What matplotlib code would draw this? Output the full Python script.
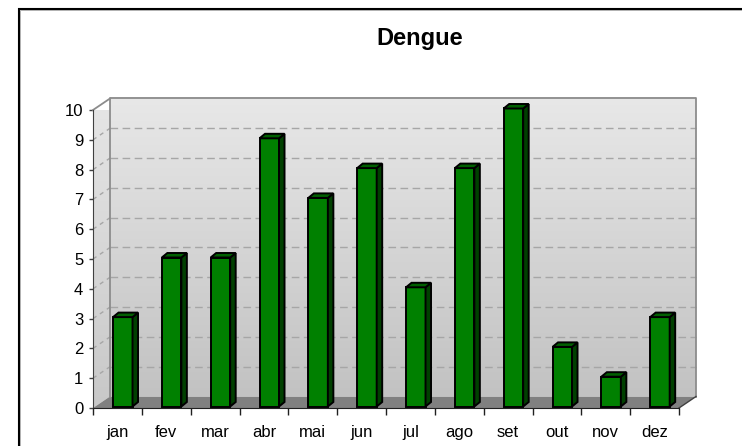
import numpy as np
import matplotlib.pyplot as plt
from matplotlib.patches import Polygon, Rectangle
from matplotlib.colors import LinearSegmentedColormap

plt.rcParams['font.family'] = ['Liberation Sans', 'DejaVu Sans']
plt.rcParams['lines.scale_dashes'] = False

# data
months = ['jan', 'fev', 'mar', 'abr', 'mai', 'jun', 'jul', 'ago', 'set', 'out', 'nov', 'dez']
cases = [3, 5, 5, 9, 7, 8, 4, 8, 10, 2, 1, 3]
yticks = list(range(0, 11))

W, H = 742, 446
fig = plt.figure(figsize=(W / 100, H / 100), dpi=100)

# front plane of the 3d box, in pixels
left, right, bottom, top = 93, 679, 408, 110
ax = fig.add_axes([left / W, 1 - bottom / H, (right - left) / W, (bottom - top) / H])
n = len(months)
ymax = 10
ax.set_xlim(0, n)
ax.set_ylim(0, ymax)

px_x = (right - left) / n       # pixels per category
px_y = (bottom - top) / ymax    # pixels per unit
ddx = 17 / px_x                 # depth of the box
ddy = 11.5 / px_y

# back wall with gradient
wall_cmap = LinearSegmentedColormap.from_list('wall', ['#c2c2c2', '#e8e8e8'])
grad = np.linspace(0, 1, 256).reshape(-1, 1)
ax.imshow(grad, extent=(ddx, n + ddx, ddy, ymax + ddy), origin='lower', aspect='auto',
          cmap=wall_cmap, clip_on=False, zorder=0)

# side wall
side = Polygon([(0, 0), (ddx, ddy), (ddx, ymax + ddy), (0, ymax)], closed=True,
               fc='none', ec='none', transform=ax.transData)
ax.add_patch(side)
im2 = ax.imshow(grad, extent=(0, ddx, 0, ymax + ddy), origin='lower', aspect='auto',
                cmap=LinearSegmentedColormap.from_list('side', ['#c8c8c8', '#e6e6e6']),
                clip_on=True, zorder=0)
im2.set_clip_path(side)

# floor
ax.add_patch(Polygon([(0, 0), (n, 0), (n + ddx, ddy), (ddx, ddy)], closed=True,
                     fc='#808080', ec='none', zorder=1, clip_on=False))

# gridlines on back and side wall
for v in yticks[1:ymax]:
    ax.plot([ddx, n + ddx], [v + ddy, v + ddy], color='#a6a6a6', lw=1,
            dashes=(5.5, 3.2), zorder=1, clip_on=False)
    ax.plot([0, ddx], [v, v + ddy], color='#a6a6a6', lw=1,
            dashes=(3, 3), zorder=1, clip_on=False)

# box edges
edge = '#8c8c8c'
ax.plot([ddx, ddx, n + ddx, n + ddx], [ddy, ymax + ddy, ymax + ddy, ddy],
        color=edge, lw=1.3, zorder=2, clip_on=False)
ax.plot([0, ddx], [ymax, ymax + ddy], color=edge, lw=1.3, zorder=2, clip_on=False)
ax.plot([n, n + ddx], [0, ddy], color='#404040', lw=1, zorder=2, clip_on=False)

# bars
bw = 19.5 / px_x
off = 0.41
y0 = 1.5 / px_y
bdx = 5.5 / px_x
bdy = 4.5 / px_y
for i, v in enumerate(cases):
    x0 = i + off
    ax.add_patch(Rectangle((x0, y0), bw, v, fc='#008000', ec='black', lw=1.4,
                           zorder=3, clip_on=False))
    ax.add_patch(Polygon([(x0 + bw, y0), (x0 + bw + bdx, y0 + bdy),
                          (x0 + bw + bdx, y0 + v + bdy), (x0 + bw, y0 + v)],
                         closed=True, fc='#004000', ec='black', lw=1.4, zorder=3, clip_on=False))
    ax.add_patch(Polygon([(x0, y0 + v), (x0 + bw, y0 + v),
                          (x0 + bw + bdx, y0 + v + bdy), (x0 + bdx, y0 + v + bdy)],
                         closed=True, fc='#006000', ec='black', lw=1.4, zorder=3, clip_on=False))

# axes
for s in ['top', 'right']:
    ax.spines[s].set_visible(False)
ax.spines['left'].set_color('#404040')
ax.spines['bottom'].set_color('#202020')
ax.spines['left'].set_zorder(4)
ax.spines['bottom'].set_zorder(4)

ax.set_yticks(yticks)
ax.set_yticklabels([str(t) for t in yticks], fontsize=12)
ax.tick_params(axis='y', length=3, width=1, color='#404040', pad=4)

ax.set_xticks(range(n + 1))
ax.set_xticklabels([])
ax.tick_params(axis='x', which='major', length=5, width=1, color='#202020')
ax.set_xticks([i + 0.5 for i in range(n)], minor=True)
ax.set_xticklabels(months, minor=True, fontsize=12)
ax.tick_params(axis='x', which='minor', length=0, pad=12)

fig.text(420 / W, 1 - 38 / H, 'Dengue', fontsize=17, fontweight='bold',
         ha='center', va='center')

# chart border (cropped at right and bottom)
fig.add_artist(Rectangle((18.5 / W, -0.1), 1.2, 1 - 8.5 / H + 0.1, transform=fig.transFigure,
                         fill=False, ec='black', lw=1.5))
fig.add_artist(Rectangle((20 / W, -0.1), 1.2, 1 - 10 / H + 0.1, transform=fig.transFigure,
                         fill=False, ec='#b0b0b0', lw=0.7))

fig.savefig('out.png', dpi=100)
